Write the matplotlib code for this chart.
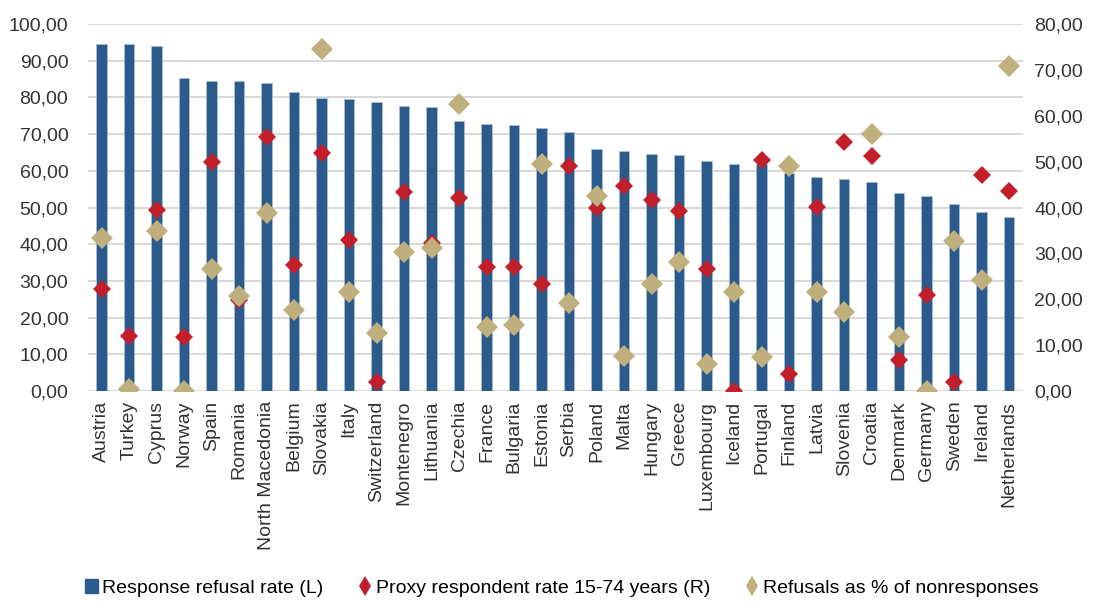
import matplotlib.pyplot as plt
from matplotlib.lines import Line2D
from matplotlib.patches import Patch
from matplotlib.ticker import FuncFormatter

# values
countries = ['Austria', 'Turkey', 'Cyprus', 'Norway', 'Spain', 'Romania', 'North Macedonia',
             'Belgium', 'Slovakia', 'Italy', 'Switzerland', 'Montenegro', 'Lithuania', 'Czechia',
             'France', 'Bulgaria', 'Estonia', 'Serbia', 'Poland', 'Malta', 'Hungary', 'Greece',
             'Luxembourg', 'Iceland', 'Portugal', 'Finland', 'Latvia', 'Slovenia', 'Croatia',
             'Denmark', 'Germany', 'Sweden', 'Ireland', 'Netherlands']
# response refusal rate (left axis)
refusal_rate = [94.6, 94.5, 94.0, 85.3, 84.6, 84.6, 83.9, 81.4, 79.8, 79.7, 78.7, 77.8, 77.4,
                73.7, 72.7, 72.6, 71.7, 70.5, 66.0, 65.3, 64.6, 64.4, 62.8, 61.8, 62.0,
                59.3, 58.4, 57.7, 56.9, 53.9, 53.1, 50.9, 48.9, 47.3]
# proxy respondent rate 15-74 years (right axis)
proxy_rate = [22.2, 11.9, 39.5, 11.7, 50.0, 19.8, 55.4, 27.5, 52.0, 32.9, 2.0, 43.3, 32.2,
              42.1, 27.1, 27.0, 23.3, 49.0, 40.0, 44.8, 41.6, 39.2, 26.6, 0.0, 50.4,
              3.8, 40.2, 54.2, 51.2, 6.8, 20.9, 1.9, 47.1, 43.5]
# refusals as % of nonresponses (right axis)
refusal_share = [33.4, 0.4, 34.9, 0.0, 26.7, 20.7, 38.9, 17.6, 74.5, 21.5, 12.6, 30.2, 31.2,
                 62.5, 13.9, 14.4, 49.6, 19.2, 42.6, 7.7, 23.3, 28.1, 5.8, 21.6, 7.4,
                 49.0, 21.6, 17.2, 56.0, 11.8, 0.0, 32.7, 24.1, 70.9]

BLUE = '#2B5A8C'
RED = '#C21F2A'
TAN = '#BFAF7C'

plt.rcParams['font.family'] = ['Liberation Sans', 'DejaVu Sans']
plt.rcParams['font.size'] = 14

fig = plt.figure(figsize=(10.97, 6.02), dpi=100)
ax = fig.add_axes([0.080, 0.3505, 0.8525, 0.6095])
ax2 = ax.twinx()

x = list(range(len(countries)))
ax.bar(x, refusal_rate, width=0.38, color=BLUE, edgecolor='#A9BCD3', linewidth=0.6, zorder=2)
# tan markers sit on top of the red ones in the original
ax2.plot(x, proxy_rate, 'D', color=RED, markersize=9, markeredgewidth=0, zorder=3)
ax2.plot(x, refusal_share, 'D', color=TAN, markersize=11, markeredgewidth=0, zorder=4)

comma = FuncFormatter(lambda v, p: ('%.2f' % v).replace('.', ','))
ax.set_ylim(0, 100)
ax.set_yticks(range(0, 101, 10))
ax.yaxis.set_major_formatter(comma)
ax2.set_ylim(0, 80)
ax2.set_yticks(range(0, 81, 10))
ax2.yaxis.set_major_formatter(comma)
ax.set_xlim(-0.5, len(countries) - 0.5)
ax.set_xticks(x)
ax.set_xticklabels(countries, rotation=90, color='#1a1a1a')

ax.grid(axis='y', color='#D9D9D9', linewidth=1.5, zorder=0)
ax.set_axisbelow(True)
for a in (ax, ax2):
    for s in a.spines.values():
        s.set_visible(False)
    a.tick_params(length=0, colors='#333333')
ax.tick_params(axis='x', pad=7)
ax.tick_params(axis='y', pad=14)
ax2.tick_params(axis='y', pad=8)
ax2.set_zorder(ax.get_zorder() + 1)

handles = [Patch(color=BLUE),
           Line2D([], [], marker='d', color=RED, linestyle='none', markersize=10, markeredgewidth=0),
           Line2D([], [], marker='d', color=TAN, linestyle='none', markersize=10, markeredgewidth=0)]
labels = ['Response refusal rate (L)', 'Proxy respondent rate 15-74 years (R)',
          'Refusals as % of nonresponses']
fig.legend(handles, labels, loc='center', bbox_to_anchor=(0.512, 0.023), ncol=3, frameon=False,
           handlelength=0.7, handletextpad=0.2, columnspacing=1.8, fontsize=14)

fig.savefig('out.png', dpi=100)
